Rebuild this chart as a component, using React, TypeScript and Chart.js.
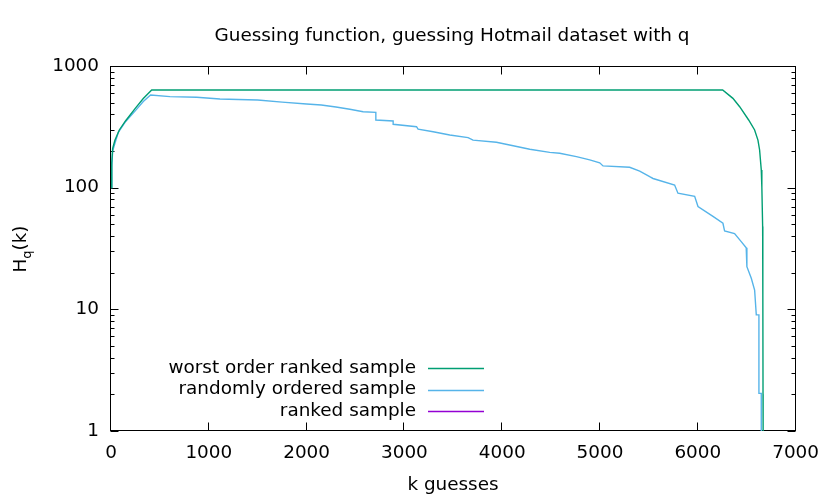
import React, { useEffect, useRef } from "react";
import { Chart, registerables } from "chart.js";

Chart.register(...registerables);

const TITLE = "Guessing function, guessing Hotmail dataset with q";
const X_TITLE = "k guesses";
const X_TICKS = [0, 1000, 2000, 3000, 4000, 5000, 6000, 7000];
const Y_TICKS = [1, 10, 100, 1000];
const SERIES_NAMES = ["worst order ranked sample", "randomly ordered sample", "ranked sample"];
const SERIES_COLORS = ["#009e73", "#56b4e9", "#9400d3"];

// worst order ranked sample
const worstK = [1, 8, 17, 40, 85, 150, 250, 330, 416, 6254, 6359, 6428, 6520, 6581, 6615, 6632, 6649, 6655, 6663, 6665, 6667, 6668];
const worstH = [100, 160, 210, 245, 298, 355, 450, 540, 635, 635, 542, 463, 360, 298, 246, 204, 140, 101, 48, 13.5, 2, 1];

// randomly ordered sample
const randomK = [1, 8, 17, 40, 75, 150, 250, 330, 405, 603, 876, 1114, 1300, 1500, 1750, 2000, 2150, 2300, 2442, 2578, 2708, 2708, 2885, 2885, 3124, 3140, 3294, 3464, 3651, 3702, 3941, 4100, 4282, 4486, 4588, 4759, 4895, 4997, 5031, 5303, 5406, 5508, 5542, 5763, 5797, 5968, 6002, 6155, 6257, 6274, 6376, 6444, 6495, 6502, 6547, 6581, 6598, 6625, 6625, 6649, 6649];
const randomH = [100, 150, 200, 232, 285, 350, 430, 510, 578, 560, 553, 535, 530, 525, 505, 487, 478, 460, 441, 421, 416, 360, 353, 332, 317, 303, 288, 271, 258, 246, 236, 222, 207, 195, 192, 180, 169, 160, 151, 147, 137, 123, 119, 105, 90, 85, 70, 58, 51, 44, 42, 36, 32, 22.4, 18, 14.4, 9, 9, 2.04, 2.04, 1];

// ranked sample (not visible in range)
const rankedK: number[] = [];
const rankedH: number[] = [];

const FONT = '"DejaVu Sans", "Liberation Sans", sans-serif';
const FS = 18.4;

function toPoints(ks: number[], hs: number[]) {
  return ks.map((k, i) => ({ x: k, y: hs[i] }));
}

const framePlugin = {
  id: "gnuFrame",
  beforeDatasetsDraw(chart: any) {
    const { ctx, chartArea, scales } = chart;
    const { left, right, top, bottom } = chartArea;
    const xs = scales.x;
    const ys = scales.y;
    ctx.save();
    ctx.strokeStyle = "#000";
    ctx.lineWidth = 1;
    const L = Math.round(left) - 0.5;
    const R = Math.round(right) - 0.5;
    const T = Math.round(top) + 0.5;
    const B = Math.round(bottom) - 0.5;
    const line = (x1: number, y1: number, x2: number, y2: number) => {
      ctx.beginPath();
      ctx.moveTo(x1, y1);
      ctx.lineTo(x2, y2);
      ctx.stroke();
    };
    for (const v of X_TICKS) {
      const px = Math.round(xs.getPixelForValue(v)) - 0.5;
      line(px, B, px, B - 8);
      line(px, T, px, T + 8);
    }
    for (const d of [1, 10, 100, 1000]) {
      for (let m = 1; m <= 9; m++) {
        const v = d * m;
        if (v > 1000) break;
        const len = m === 1 ? 8 : 4;
        const py = Math.round(ys.getPixelForValue(v)) + 0.5;
        line(L, py, L + len, py);
        line(R, py, R - len, py);
      }
    }
    ctx.strokeRect(L, T, R - L, B - T);
    ctx.restore();
  },
  afterDraw(chart: any) {
    const { ctx } = chart;
    ctx.save();
    ctx.fillStyle = "#000";
    ctx.font = `${FS}px ${FONT}`;
    ctx.textAlign = "center";
    ctx.textBaseline = "alphabetic";
    ctx.fillText(TITLE, 452, 41);
    ctx.fillText(X_TITLE, 453, 490);

    // y title: H_q(k)
    ctx.save();
    ctx.translate(26, 249);
    ctx.rotate(-Math.PI / 2);
    ctx.textAlign = "left";
    ctx.font = `${FS}px ${FONT}`;
    const wH = ctx.measureText("H").width;
    ctx.font = `13px ${FONT}`;
    const wq = ctx.measureText("q").width;
    ctx.font = `${FS}px ${FONT}`;
    const wk = ctx.measureText("(k)").width;
    const total = wH + wq + wk;
    let x0 = -total / 2;
    ctx.fillText("H", x0, 0);
    x0 += wH;
    ctx.font = `13px ${FONT}`;
    ctx.fillText("q", x0, 5);
    x0 += wq;
    ctx.font = `${FS}px ${FONT}`;
    ctx.fillText("(k)", x0, 0);
    ctx.restore();

    // legend
    const rows = [368, 389.5, 411];
    ctx.font = `${FS}px ${FONT}`;
    ctx.textAlign = "right";
    ctx.textBaseline = "middle";
    SERIES_NAMES.forEach((name, i) => {
      ctx.fillStyle = "#000";
      ctx.fillText(name, 416, rows[i]);
      ctx.strokeStyle = SERIES_COLORS[i];
      ctx.lineWidth = 1.4;
      ctx.beginPath();
      ctx.moveTo(428, Math.round(rows[i]) + 0.5);
      ctx.lineTo(484, Math.round(rows[i]) + 0.5);
      ctx.stroke();
    });
    ctx.restore();
  },
};

export default function App() {
  const ref = useRef<HTMLCanvasElement | null>(null);
  useEffect(() => {
    if (!ref.current) return;
    const chart = new Chart(ref.current, {
      type: "line",
      data: {
        datasets: [
          { label: SERIES_NAMES[0], data: toPoints(worstK, worstH), borderColor: SERIES_COLORS[0], borderWidth: 1.4, pointRadius: 0, fill: false },
          { label: SERIES_NAMES[1], data: toPoints(randomK, randomH), borderColor: SERIES_COLORS[1], borderWidth: 1.4, pointRadius: 0, fill: false },
          { label: SERIES_NAMES[2], data: toPoints(rankedK, rankedH), borderColor: SERIES_COLORS[2], borderWidth: 1.4, pointRadius: 0, fill: false },
        ],
      },
      options: {
        animation: false,
        responsive: false,
        maintainAspectRatio: false,
        layout: { padding: { top: 66, right: 34, left: 0, bottom: 0 } },
        plugins: {
          legend: { display: false },
          title: { display: false },
          tooltip: { enabled: false },
        },
        elements: { line: { tension: 0 }, point: { radius: 0 } },
        scales: {
          x: {
            type: "linear",
            min: 0,
            max: 7000,
            afterBuildTicks: (s: any) => {
              s.ticks = X_TICKS.map((v) => ({ value: v }));
            },
            ticks: {
              autoSkip: false,
              maxRotation: 0,
              color: "#000",
              padding: 11,
              font: { family: FONT, size: FS },
              callback: (v: any) => String(v),
            },
            grid: { display: false, drawTicks: false },
            border: { display: false },
            afterFit: (s: any) => {
              s.height = 67;
            },
          },
          y: {
            type: "logarithmic",
            min: 1,
            max: 1000,
            afterBuildTicks: (s: any) => {
              s.ticks = Y_TICKS.map((v) => ({ value: v }));
            },
            ticks: {
              autoSkip: false,
              color: "#000",
              padding: 12,
              font: { family: FONT, size: FS },
              callback: (v: any) => String(v),
            },
            grid: { display: false, drawTicks: false },
            border: { display: false },
            afterFit: (s: any) => {
              s.width = 111;
            },
          },
        },
      },
      plugins: [framePlugin],
    } as any);
    return () => chart.destroy();
  }, []);
  return (
    <div style={{ position: "absolute", left: 0, top: 0, width: 830, height: 498, background: "#fff" }}>
      <canvas ref={ref} width={830} height={498} style={{ width: 830, height: 498 }} />
    </div>
  );
}
